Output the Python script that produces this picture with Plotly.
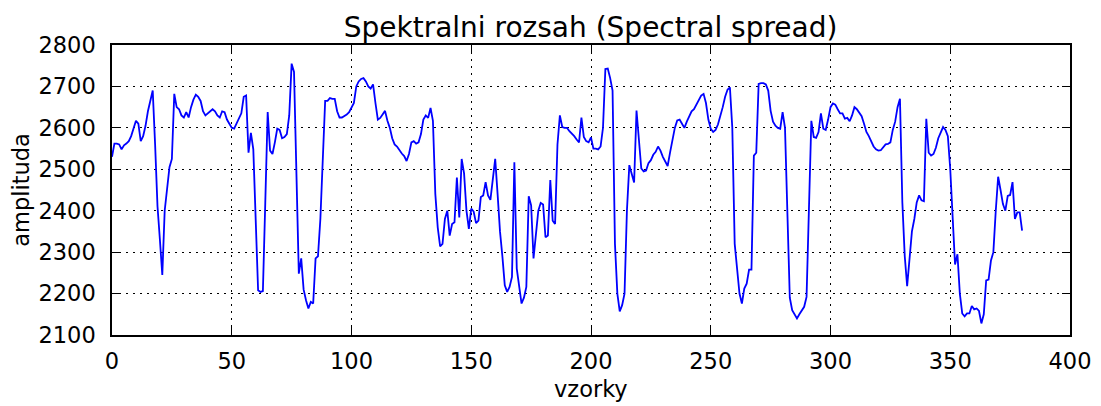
import plotly.graph_objects as go

# amplituda pro vzorky 0..380
amplituda = [
    2530, 2562, 2562, 2560, 2548, 2558, 2562, 2568, 2580, 2600,
    2617, 2610, 2568, 2580, 2605, 2640, 2668, 2690, 2560, 2410,
    2330, 2245, 2400, 2460, 2505, 2525, 2682, 2650, 2645, 2630,
    2625, 2638, 2625, 2650, 2668, 2680, 2675, 2665, 2640, 2630,
    2635, 2640, 2645, 2640, 2630, 2625, 2640, 2638, 2620, 2610,
    2600, 2598, 2610, 2625, 2635, 2675, 2678, 2540, 2588, 2548,
    2380, 2208, 2204, 2206, 2420, 2638, 2545, 2537, 2565, 2598,
    2595, 2575, 2578, 2585, 2630, 2755, 2735, 2480, 2248, 2285,
    2210, 2184, 2164, 2180, 2176, 2285, 2290, 2380, 2520, 2665,
    2665, 2672, 2670, 2670, 2640, 2625, 2625, 2628, 2632, 2638,
    2650, 2660, 2700, 2712, 2718, 2720, 2712, 2700, 2695, 2705,
    2660, 2620, 2624, 2632, 2641, 2617, 2600, 2575, 2560, 2555,
    2545, 2538, 2532, 2520, 2537, 2565, 2568, 2562, 2565, 2585,
    2620, 2630, 2624, 2648, 2617, 2440, 2360, 2314, 2320, 2380,
    2400, 2340, 2368, 2372, 2480, 2384, 2525, 2490, 2400, 2356,
    2405, 2398, 2370, 2376, 2433, 2437, 2469, 2437, 2426, 2480,
    2525, 2440, 2350, 2290, 2220, 2204, 2216, 2240, 2517, 2260,
    2216, 2176, 2190, 2216, 2435, 2413, 2285, 2340, 2400, 2419,
    2415, 2336, 2340, 2474, 2376, 2368, 2560, 2630, 2602, 2600,
    2600, 2592, 2587, 2580, 2572, 2565, 2625, 2578, 2568, 2565,
    2577, 2550, 2550, 2548, 2555, 2600, 2742, 2743, 2720, 2690,
    2320, 2200, 2157, 2172, 2200, 2400, 2510, 2490, 2468, 2642,
    2560, 2502, 2495, 2497, 2515, 2522, 2535, 2542, 2555, 2545,
    2530, 2520, 2508, 2540, 2570, 2600, 2618, 2620, 2610, 2600,
    2615, 2630, 2640, 2645, 2655, 2668, 2678, 2682, 2660, 2620,
    2598, 2590, 2595, 2608, 2627, 2650, 2675, 2692, 2698, 2600,
    2320, 2250, 2200, 2176, 2212, 2224, 2258, 2258, 2533, 2540,
    2706, 2708, 2708, 2705, 2690, 2641, 2615, 2605, 2600, 2598,
    2638, 2600, 2408, 2190, 2160, 2150, 2140, 2150, 2160, 2168,
    2192, 2420, 2617, 2578, 2576, 2590, 2635, 2598, 2595, 2620,
    2650, 2659, 2656, 2645, 2635, 2635, 2622, 2624, 2616, 2630,
    2650, 2645, 2636, 2628, 2610, 2590, 2580, 2565, 2555, 2548,
    2545, 2546, 2552, 2560, 2561, 2565, 2595, 2615, 2650, 2670,
    2420, 2290, 2218, 2290, 2350, 2380, 2420, 2437, 2425, 2423,
    2622, 2540, 2533, 2537, 2552, 2575, 2590, 2602, 2595, 2580,
    2500, 2400, 2270, 2295, 2200, 2152, 2145, 2152, 2152, 2170,
    2162, 2164, 2158, 2128, 2150, 2232, 2234, 2280, 2300, 2400,
    2482, 2450, 2416, 2400, 2436, 2438, 2469, 2380, 2396, 2396,
    2352,
]
vzorky = list(range(len(amplituda)))

x_ticks = [0, 50, 100, 150, 200, 250, 300, 350, 400]
y_ticks = [2100, 2200, 2300, 2400, 2500, 2600, 2700, 2800]

font = "DejaVu Sans"

fig = go.Figure(go.Scatter(
    x=vzorky,
    y=amplituda,
    mode="lines",
    line=dict(color="#0000ff", width=1.8),
))

axis_style = dict(
    showline=True,
    linecolor="black",
    linewidth=1.5,
    mirror="ticks",
    ticks="inside",
    ticklen=8,
    tickwidth=1,
    tickcolor="black",
    showgrid=True,
    gridcolor="black",
    gridwidth=1,
    griddash="2px,5px",
    zeroline=False,
    automargin=False,
    tickfont=dict(family=font, size=22.5, color="black"),
)

fig.update_xaxes(
    range=[0, 400],
    tickvals=x_ticks,
    ticklabelstandoff=5,
    **axis_style,
)
fig.update_yaxes(
    range=[2100, 2800],
    tickvals=y_ticks,
    ticklabelstandoff=10,
    title=dict(text="amplituda", font=dict(family=font, size=22.5, color="black"), standoff=8),
    **axis_style,
)

# popisek osy x jako anotace (standoff bez automargin nefunguje)
fig.add_annotation(
    text="vzorky",
    xref="paper", yref="paper",
    x=0.5, y=0,
    xanchor="center", yanchor="middle",
    yshift=-54,
    showarrow=False,
    font=dict(family=font, size=22.5, color="black"),
)

# stranka ma okraj 8 px, proto mensi rozmery a okraje
fig.update_layout(
    width=1093,
    height=398,
    margin=dict(l=104, r=31, t=37, b=71),
    paper_bgcolor="white",
    plot_bgcolor="white",
    showlegend=False,
    title=dict(
        text="Spektralni rozsah (Spectral spread)",
        font=dict(family=font, size=28, color="black"),
        x=0.533, xanchor="center",
        y=0.953, yanchor="middle",
    ),
)

fig.write_html("out.html")
